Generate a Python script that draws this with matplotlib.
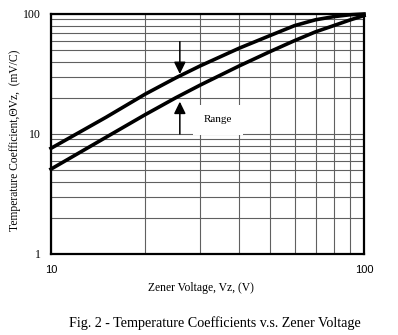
import numpy as np
import matplotlib
matplotlib.use("Agg")
import matplotlib.pyplot as plt
from matplotlib.ticker import LogLocator, FixedLocator, NullFormatter

# Data
vz = [10, 15, 20, 25, 30, 40, 50, 60, 70, 80, 90, 100]
tc_upper = [7.6, 13.8, 21.5, 29.3, 37, 52, 66, 80, 89.5, 95, 98.5, 100]
tc_lower = [5.1, 9.4, 14.5, 20, 25.6, 37, 48.5, 60, 71, 80, 89, 97]

x_ticks = [10, 100]
x_ticklabels = ['10', '100']
y_ticks = [1, 10, 100]
y_ticklabels = ['1', '10', '100']

# arrows marking the range
arrow_v = 25.8
arrow_down = (58.8, 31.6)
arrow_up = (10, 18.6)

serif = 'Liberation Serif'
sans = 'Liberation Sans'

fig = plt.figure(figsize=(3.98, 3.35), dpi=100)
ax = fig.add_axes([51 / 398, 81 / 335, 313 / 398, 240 / 335])

ax.set_xscale('log')
ax.set_yscale('log')
ax.set_xlim(10, 100)
ax.set_ylim(1, 100)

ax.xaxis.set_major_locator(FixedLocator(x_ticks))
ax.yaxis.set_major_locator(FixedLocator(y_ticks))
ax.set_xticklabels(x_ticklabels, fontfamily=sans, fontsize=8)
ax.set_yticklabels(y_ticklabels, fontfamily=serif, fontsize=8.5)
ax.xaxis.set_minor_locator(LogLocator(base=10, subs=np.arange(2, 10)))
ax.yaxis.set_minor_locator(LogLocator(base=10, subs=np.arange(2, 10)))
ax.xaxis.set_minor_formatter(NullFormatter())
ax.yaxis.set_minor_formatter(NullFormatter())
ax.tick_params(which='both', length=0)
ax.tick_params(axis='x', pad=8)
ax.tick_params(axis='y', pad=7)

ax.grid(True, which='both', color='#606060', linewidth=0.8)
ax.set_axisbelow(True)
for s in ax.spines.values():
    s.set_linewidth(1.6)
    s.set_zorder(5)

ax.plot(vz, tc_upper, color='black', linewidth=2.6, clip_on=False, zorder=4)
ax.plot(vz, tc_lower, color='black', linewidth=2.6, clip_on=False, zorder=4)

aprops = dict(arrowstyle='-|>,head_length=0.45,head_width=0.22', color='black',
              lw=1.1, shrinkA=0, shrinkB=0, mutation_scale=16)
ax.annotate('', xy=(arrow_v, arrow_down[1]), xytext=(arrow_v, arrow_down[0]),
            arrowprops=aprops, zorder=4)
ax.annotate('', xy=(arrow_v, arrow_up[1]), xytext=(arrow_v, arrow_up[0]),
            arrowprops=aprops, zorder=4)

ax.text(34.2, 13.1, 'Range', fontfamily=serif, fontsize=8, ha='center', va='center',
        bbox=dict(boxstyle='square,pad=0.95', facecolor='white', edgecolor='none'),
        zorder=3)

fig.text(201 / 398, 1 - 288 / 335, 'Zener Voltage, Vz, (V)', fontfamily=serif,
         fontsize=8.4, ha='center', va='center')
fig.text(15 / 398, 1 - 140 / 335, 'Temperature Coefficient,ΘVz,  (mV/C)',
         fontfamily=serif, fontsize=8.3, ha='center', va='center', rotation=90)
fig.text(215 / 398, 1 - 323 / 335,
         'Fig. 2 - Temperature Coefficients v.s. Zener Voltage',
         fontfamily=serif, fontsize=10.2, ha='center', va='center')

fig.savefig('out.png', dpi=100)
